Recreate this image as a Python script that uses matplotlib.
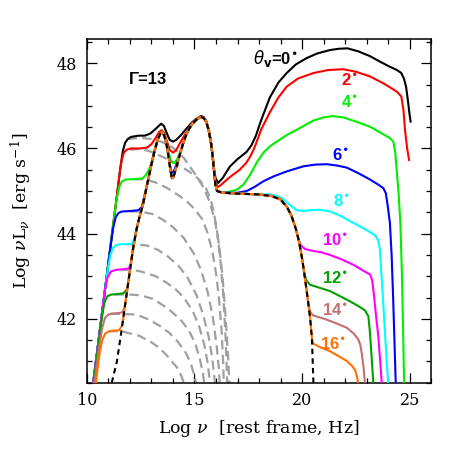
import matplotlib
matplotlib.use("Agg")
import matplotlib.pyplot as plt
from matplotlib.ticker import MultipleLocator

# ---------------- data ----------------
# external (disc + torus + corona) component, black dashed
ext = [(11.16,40.5),(11.4,41.0),(11.6,41.68),(11.8,42.4),(12.0,43.12),(12.15,43.65),(12.3,44.08),
       (12.45,44.4),(12.6,44.66),(12.8,45.15),(13.0,45.62),(13.15,45.95),(13.3,46.22),(13.42,46.35),
       (13.5,46.38),(13.6,46.3),(13.7,46.1),(13.8,45.8),(13.88,45.5),(13.95,45.3),(14.02,45.32),
       (14.15,45.55),(14.3,45.82),(14.45,46.08),(14.6,46.3),(14.75,46.46),(14.9,46.58),(15.1,46.68),
       (15.3,46.74),(15.42,46.72),(15.55,46.62),(15.66,46.42),(15.76,46.15),(15.84,45.82),(15.91,45.45),
       (15.97,45.15),(16.05,45.0),(16.3,44.96),(17.0,44.94),(18.0,44.92),(18.6,44.88),(19.0,44.8),
       (19.3,44.62),(19.5,44.42),(19.7,44.12),(19.85,43.82),(20.0,43.4),(20.1,43.05),(20.2,42.68),
       (20.3,42.3),(20.38,41.95),(20.45,41.55),(20.48,41.1),(20.52,40.5)]

# synchrotron components (grey dashed), one per viewing angle
syn_00 = [(11.9,46.22),(12.5,46.25),(13.0,46.22),(13.5,46.15),(14.0,46.02),(14.5,45.78),(15.0,45.42),
          (15.4,45.1),(15.7,44.75),(15.95,44.3),(16.15,43.7),(16.3,43.0),(16.45,42.0),(16.56,41.1),(16.62,40.5)]
syn_02 = [(12.0,45.97),(12.5,45.99),(13.0,45.92),(13.83,45.73),(14.75,45.46),(15.2,45.28),(15.52,45.08),
          (15.75,44.8),(15.9,44.5),(16.05,44.05),(16.2,43.4),(16.33,42.6),(16.44,41.6),(16.52,40.5)]
syn_04 = [(12.2,45.27),(12.67,45.28),(13.2,45.2),(13.7,45.08),(14.2,44.92),(14.6,44.78),(15.0,44.58),
          (15.37,44.33),(15.62,44.0),(15.84,43.55),(16.02,43.0),(16.15,42.4),(16.26,41.7),(16.32,41.1),(16.36,40.5)]
syn_06 = [(12.0,44.52),(12.45,44.52),(13.06,44.46),(13.55,44.32),(14.0,44.15),(14.5,43.9),(14.95,43.55),
          (15.3,43.15),(15.6,42.65),(15.85,42.05),(16.02,41.4),(16.12,40.9),(16.17,40.5)]
syn_08 = [(11.8,43.75),(12.3,43.75),(12.8,43.72),(13.3,43.62),(13.8,43.45),(14.3,43.22),(14.7,42.95),
          (15.1,42.55),(15.4,42.1),(15.65,41.6),(15.82,41.1),(15.95,40.5)]
syn_10 = [(11.6,43.15),(12.13,43.15),(12.6,43.1),(13.2,43.0),(13.7,42.85),(14.13,42.69),(14.5,42.5),
          (14.9,42.2),(15.2,41.85),(15.45,41.4),(15.6,41.0),(15.72,40.5)]
syn_12 = [(11.3,42.57),(11.97,42.57),(12.5,42.55),(13.06,42.47),(13.6,42.3),(13.98,42.15),(14.4,41.95),
          (14.75,41.72),(15.05,41.4),(15.25,41.05),(15.38,40.75),(15.45,40.5)]
syn_14 = [(11.1,42.12),(11.74,42.11),(12.3,42.1),(12.9,41.98),(13.4,41.83),(13.83,41.67),(14.2,41.48),
          (14.6,41.2),(14.85,40.92),(15.0,40.65),(15.07,40.5)]
syn_16 = [(11.0,41.71),(11.59,41.71),(12.44,41.6),(13.0,41.45),(13.36,41.32),(13.7,41.15),(13.98,40.98),
          (14.2,40.85),(14.4,40.65),(14.5,40.5)]

# total spectra: own low-frequency part, shared external stretch (x range), own high-frequency part
tot_00 = [(10.3,40.5),(10.8,42.5),(11.2,44.1),(11.45,45.1),(11.58,45.62),(11.68,45.95),(11.78,46.13),
          (11.9,46.22),(12.05,46.27),(12.4,46.3),(12.7,46.3),(12.95,46.35),(13.2,46.46),(13.45,46.58),(13.58,46.53),
          (13.72,46.35),(13.85,46.2),(14.0,46.16),(14.15,46.2),(14.35,46.3),(14.6,46.45),(14.9,46.62),
          (15.1,46.7),(15.3,46.76),(15.42,46.74),(15.55,46.64),(15.66,46.45),(15.76,46.18),(15.84,45.86),
          (15.91,45.52),(15.98,45.3),(16.1,45.19),(16.3,45.3),(16.65,45.58),(17.0,45.75),(17.42,45.92),
          (17.65,46.08),(17.85,46.3),(18.1,46.67),(18.5,47.2),(18.9,47.55),(19.28,47.77),(19.7,47.97),
          (20.2,48.12),(20.7,48.23),(21.29,48.31),(21.7,48.34),(22.1,48.35),(22.6,48.28),(23.13,48.17),
          (23.6,48.04),(24.06,47.92),(24.4,47.84),(24.6,47.77),(24.72,47.64),(24.82,47.45),(24.9,47.15),
          (24.97,46.85),(25.03,46.63)]
tot_02 = [(10.3,40.5),(10.8,42.5),(11.2,44.1),(11.4,44.88),(11.52,45.4),(11.62,45.72),(11.72,45.9),(11.85,45.97),
          (12.05,46.0),(12.5,46.0),(12.8,46.02),(13.0,46.1),(13.2,46.25),(13.35,46.38),(13.48,46.43),
          (13.6,46.36),(13.72,46.17),(13.85,45.97),(14.0,45.9),(14.15,45.96),(14.3,46.1),(14.5,46.28),
          (14.7,46.44),(14.9,46.6),(15.1,46.69),(15.3,46.75),(15.42,46.73),(15.55,46.63),(15.66,46.44),
          (15.76,46.17),(15.84,45.84),(15.91,45.48),(15.97,45.22),(16.08,45.1),(16.17,45.12),(16.4,45.22),
          (16.65,45.33),(17.1,45.5),(17.4,45.66),(17.6,45.82),(17.81,46.05),(18.1,46.45),(18.5,46.85),
          (18.9,47.2),(19.28,47.45),(19.8,47.64),(20.52,47.77),(21.2,47.84),(21.9,47.86),(22.5,47.8),
          (23.15,47.69),(23.8,47.52),(24.4,47.33),(24.6,47.22),(24.7,46.9),(24.77,46.44),(24.87,46.0),
          (24.96,45.73)]
tot_04_lo = [(10.3,40.5),(10.8,42.5),(11.1,43.7),(11.25,44.3),(11.38,44.8),(11.5,45.08),(11.62,45.22),(11.8,45.27),
             (12.2,45.28),(12.6,45.3),(12.75,45.38),(12.9,45.52),(13.05,45.75),(13.2,46.02),(13.33,46.26),
             (13.42,46.36),(13.5,46.4),(13.6,46.32),(13.7,46.14),(13.8,45.9),(13.9,45.72),(14.0,45.66),
             (14.1,45.68),(14.2,45.75),(14.3,45.88)]
tot_04_ext = (14.45, 16.3)
tot_04_hi = [(16.65,44.99),(16.96,45.03),(17.27,45.15),(17.58,45.38),(17.9,45.68),(18.2,45.9),(18.5,46.05),
             (18.82,46.16),(19.3,46.32),(19.75,46.44),(20.5,46.65),(21.0,46.73),(21.4,46.76),(21.9,46.73),
             (22.5,46.63),(23.15,46.51),(23.7,46.35),(24.08,46.24),(24.23,46.16),(24.32,45.9),(24.4,45.4),
             (24.48,44.9),(24.56,44.2),(24.63,43.0),(24.68,41.8),(24.73,40.5)]
tot_06_lo = [(10.3,40.5),(10.7,42.1),(10.95,43.1),(11.1,43.68),(11.22,44.12),(11.34,44.38),(11.48,44.49),(11.65,44.52),
             (12.0,44.53),(12.4,44.55),(12.55,44.62),(12.8,45.15),(13.0,45.62),(13.15,45.95),(13.3,46.22),
             (13.42,46.35),(13.5,46.38),(13.6,46.3),(13.7,46.1),(13.8,45.82),(13.88,45.56),(13.95,45.43),
             (14.02,45.44),(14.15,45.6)]
tot_06_ext = (14.3, 16.3)
tot_06_hi = [(17.0,44.96),(17.42,45.0),(17.8,45.1),(18.2,45.23),(18.7,45.35),(19.28,45.46),(20.05,45.58),
             (20.6,45.62),(21.14,45.63),(21.6,45.6),(22.07,45.55),(22.6,45.42),(23.15,45.27),(23.5,45.16),
             (23.76,45.07),(23.88,44.95),(23.97,44.65),(24.07,44.25),(24.15,43.5),(24.22,42.5),(24.28,41.5),
             (24.34,40.5)]
tot_08_lo = [(10.3,40.5),(10.6,41.7),(10.85,42.7),(10.98,43.18),(11.1,43.5),(11.22,43.67),(11.4,43.74),(11.6,43.75),
             (12.0,43.76),(12.1,43.77),(12.2,43.86)]
tot_08_ext = (12.3, 18.0)
tot_08_hi = [(18.5,44.92),(18.8,44.89),(19.1,44.82),(19.43,44.67),(19.74,44.55),(20.05,44.53),(20.36,44.55),
             (20.8,44.56),(21.3,44.52),(21.76,44.42),(22.2,44.3),(22.68,44.17),(23.1,44.05),(23.4,43.95),
             (23.52,43.85),(23.6,43.65),(23.67,43.1),(23.76,42.38),(23.85,41.6),(23.92,41.0),(23.99,40.5)]
tot_10_lo = [(10.3,40.5),(10.55,41.5),(10.73,42.2),(10.85,42.7),(10.97,42.98),(11.12,43.11),(11.35,43.15),(11.6,43.16),
             (11.95,43.18),(12.05,43.3)]
tot_10_ext = (12.15, 19.85)
tot_10_hi = [(19.95,43.72),(20.13,43.64),(20.44,43.6),(20.9,43.56),(21.29,43.5),(21.8,43.4),(22.37,43.27),
             (22.8,43.14),(23.15,43.04),(23.25,42.9),(23.32,42.6),(23.42,42.1),(23.53,41.6),(23.62,41.0),
             (23.69,40.5)]
tot_12_lo = [(10.32,40.5),(10.55,41.45),(10.7,42.02),(10.82,42.38),(10.95,42.53),(11.15,42.57),(11.4,42.58),(11.7,42.6),
             (11.88,42.7)]
tot_12_ext = (12.0, 20.1)
tot_12_hi = [(20.2,42.9),(20.36,42.8),(20.8,42.73),(21.29,42.65),(21.8,42.52),(22.22,42.41),(22.6,42.3),
             (22.91,42.2),(23.07,42.06),(23.14,41.7),(23.22,41.12),(23.3,40.5)]
tot_14_lo = [(10.36,40.5),(10.58,41.35),(10.72,41.8),(10.85,42.02),(11.0,42.1),(11.2,42.12),(11.4,42.13),(11.65,42.15),
             (11.75,42.25)]
tot_14_ext = (11.8, 20.3)
tot_14_hi = [(20.38,42.15),(20.51,42.08),(21.14,41.98),(21.6,41.89),(22.07,41.79),(22.4,41.65),(22.6,41.52),
             (22.7,41.38),(22.76,41.2),(22.84,40.9),(22.91,40.5)]
tot_16_lo = [(10.42,40.5),(10.6,41.2),(10.72,41.5),(10.85,41.65),(11.0,41.7),(11.2,41.72),(11.5,41.73),(11.65,41.85)]
tot_16_ext = (11.8, 20.45)
tot_16_hi = [(20.5,41.42),(20.8,41.34),(21.29,41.24),(21.7,41.12),(22.07,41.01),(22.3,40.9),(22.45,40.8),
             (22.52,40.68),(22.6,40.5)]

angle_labels = ["$\\theta_{\\mathbf{v}}$=0", "2", "4", "6", "8", "10", "12", "14", "16"]
label_pos = [(18.75,48.12),(22.2,47.58),(22.2,47.07),(21.78,45.83),(21.8,44.75),
             (21.5,43.83),(21.5,42.94),(21.5,42.19),(21.45,41.4)]
colors = ["black", "#ff0000", "#00ee00", "#0000ff", "#00ffff", "#ff00ff", "#00a000", "#c07070", "#ff7000"]

x_major = [10, 15, 20, 25]
y_major = [42, 44, 46, 48]

# ---------------- helpers ----------------
def xs(pts):
    return [p[0] for p in pts]

def ys(pts):
    return [p[1] for p in pts]

def ext_slice(lo, hi):
    return [p for p in ext if lo <= p[0] <= hi]

def build(lo, rng, hi):
    return lo + ext_slice(*rng) + hi

totals = [tot_00, tot_02,
          build(tot_04_lo, tot_04_ext, tot_04_hi),
          build(tot_06_lo, tot_06_ext, tot_06_hi),
          build(tot_08_lo, tot_08_ext, tot_08_hi),
          build(tot_10_lo, tot_10_ext, tot_10_hi),
          build(tot_12_lo, tot_12_ext, tot_12_hi),
          build(tot_14_lo, tot_14_ext, tot_14_hi),
          build(tot_16_lo, tot_16_ext, tot_16_hi)]
syns = [syn_00, syn_02, syn_04, syn_06, syn_08, syn_10, syn_12, syn_14, syn_16]

# ---------------- figure ----------------
plt.rcParams['mathtext.fontset'] = 'dejavuserif'
fig = plt.figure(figsize=(4.69, 4.69), dpi=100)
ax = fig.add_axes([0.185, 0.184, 0.735, 0.732])

for s in syns:
    ax.plot(xs(s), ys(s), color="#a0a0a0", lw=1.6, dashes=(4.2, 2.4), zorder=2)

for t, c in zip(totals, colors):
    ax.plot(xs(t), ys(t), color=c, lw=1.5, zorder=3, solid_joinstyle='round')

ax.plot(xs(ext), ys(ext), color="black", lw=1.5, dashes=(2.6, 2.0), zorder=4)

for i, (lab, (lx, ly), c) in enumerate(zip(angle_labels, label_pos, colors)):
    ax.text(lx, ly, lab + "$^{\\bullet}$", color=c, fontsize=12, fontweight='bold',
            family='Liberation Sans', math_fontfamily='dejavusans', ha='center', va='center', zorder=5)

ax.text(12.84, 47.63, "Γ=13", fontsize=12, fontweight='bold', family='Liberation Sans',
        ha='center', va='center')

ax.set_xlim(10, 26)
ax.set_ylim(40.5, 48.56)
ax.set_xticks(x_major)
ax.set_yticks(y_major)
ax.xaxis.set_minor_locator(MultipleLocator(1))
ax.yaxis.set_minor_locator(MultipleLocator(0.5))
ax.tick_params(which='both', direction='in', top=True, right=True, width=0.9)
ax.tick_params(which='major', length=7, labelsize=11.5, pad=7)
ax.tick_params(which='minor', length=3.8)
for lab in ax.get_xticklabels() + ax.get_yticklabels():
    lab.set_family('DejaVu Serif')
for sp in ax.spines.values():
    sp.set_linewidth(1.1)

ax.set_xlabel("Log $\\nu$  [rest frame, Hz]", fontsize=12.5, family='DejaVu Serif', labelpad=6)
ax.set_ylabel("Log $\\nu$L$_\\nu$  [erg s$^{-1}$]", fontsize=12.5, family='DejaVu Serif', labelpad=16)

fig.savefig("out.png", dpi=100)
